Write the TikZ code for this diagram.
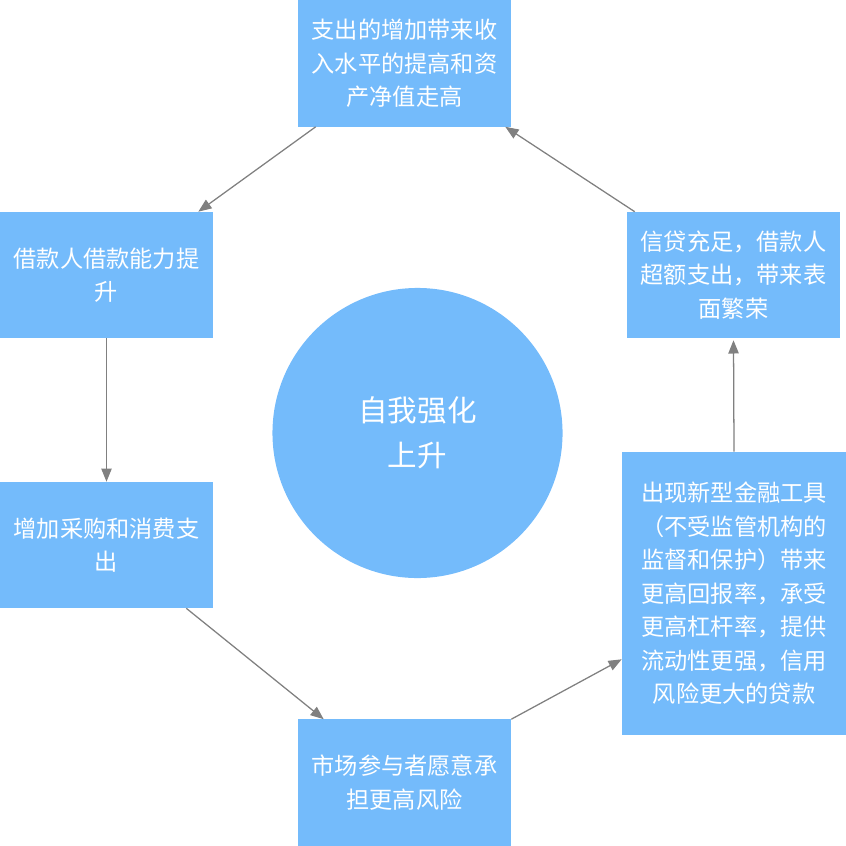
\documentclass[tikz,border=0pt]{standalone}
\usepackage{fontspec}
\usepackage{xcolor}
\usepackage{tikz}
\usetikzlibrary{arrows.meta,calc,positioning}
\newfontfamily\cjk{Noto Sans CJK SC}
\definecolor{kartMavi}{HTML}{74BBFB}
\definecolor{okGri}{HTML}{808080}

\begin{document}
\begin{tikzpicture}[x=0.025cm, y=-0.025cm,
  every node/.style={font=\cjk\fontsize{16.5pt}{23.8pt}\selectfont, text=white},
  kart/.style={fill=kartMavi, draw=none, inner sep=0pt,
               minimum width=5.325cm, minimum height=3.15cm, align=center},
  halka/.style={circle, fill=kartMavi, draw=none, minimum size=7.25cm,
                align=center, font=\cjk\fontsize{21pt}{32pt}\selectfont},
  ok/.style={-{Triangle[length=0.33cm,width=0.26cm]}, okGri, line width=0.9pt}]
\useasboundingbox (0,0) rectangle (846,846);
\node[kart] (ust) at (404.5,63.5) {支出的增加带来收\\入水平的提高和资\\产净值走高};
\node[kart] (sol) at (106.5,275) {借款人借款能力提\\升};
\node[kart] (solAlt) at (106.5,545) {增加采购和消费支\\出};
\node[kart] (alt) at (404.5,782.5) {市场参与者愿意承\\担更高风险};
\node[kart] (sagUst) at (733.5,275) {信贷充足，借款人\\超额支出，带来表\\面繁荣};
\node[kart, minimum width=5.6cm, minimum height=7.075cm] (sagAlt) at (734,593.5)
  {出现新型金融工具\\（不受监管机构的\\监督和保护）带来\\更高回报率，承受\\更高杠杆率，提供\\流动性更强，信用\\风险更大的贷款};
\node[halka] (merkez) at (417.5,433) {自我强化\\上升};
\draw[ok] ([xshift=0.45cm]ust.south west) -- ([xshift=-0.375cm]sol.north east);
\draw[ok] (sol.south) -- (solAlt.north);
\draw[ok] ([xshift=-0.675cm]solAlt.south east) -- ([xshift=0.65cm]alt.north west);
\draw[ok] (alt.north east) -- ([yshift=1.9cm]sagAlt.south west);
\draw[ok] (sagAlt.north) -- ([yshift=-0.05cm]sagUst.south);
\draw[ok] ([xshift=0.2cm]sagUst.north west) -- ([xshift=-0.15cm]ust.south east);
\end{tikzpicture}
\end{document}
